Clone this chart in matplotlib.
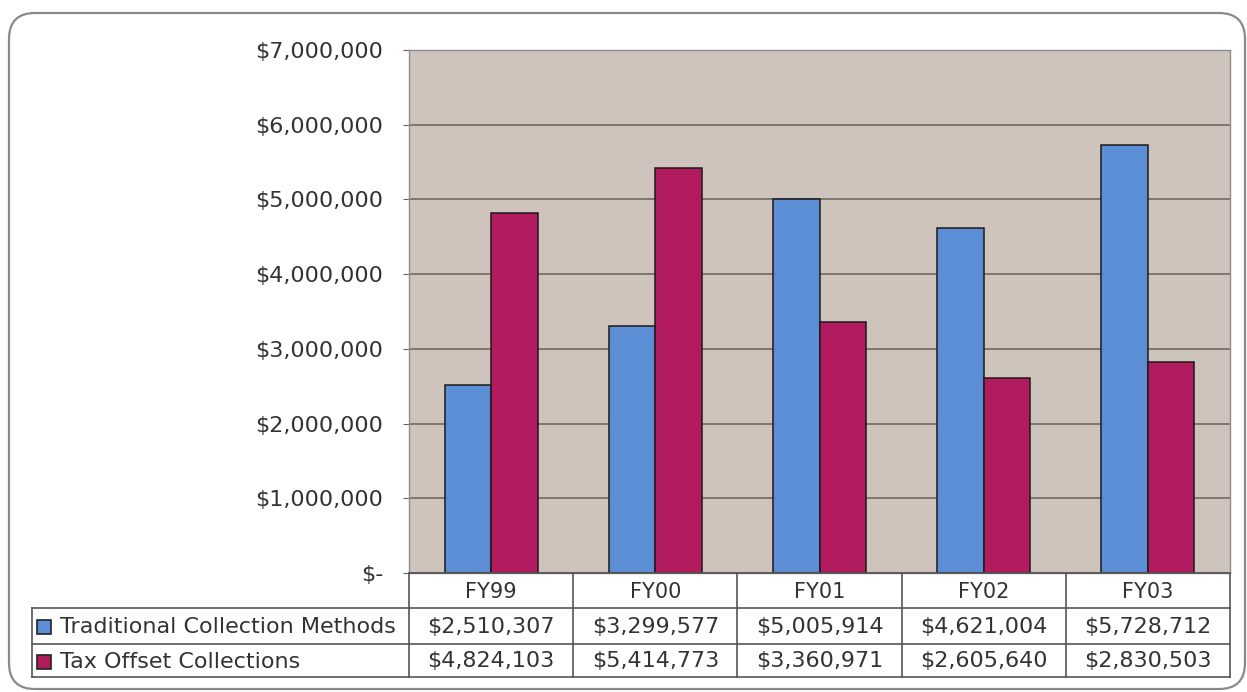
import numpy as np
import matplotlib.pyplot as plt
from matplotlib.patches import FancyBboxPatch, Rectangle
from matplotlib.ticker import FuncFormatter

plt.rcParams['font.family'] = ['DejaVu Sans']

categories = ["FY99", "FY00", "FY01", "FY02", "FY03"]
traditional = [2510307, 3299577, 5005914, 4621004, 5728712]
tax_offset = [4824103, 5414773, 3360971, 2605640, 2830503]
series_names = ["Traditional Collection Methods", "Tax Offset Collections"]
y_ticks = [0, 1000000, 2000000, 3000000, 4000000, 5000000, 6000000, 7000000]

BLUE = "#5b8ed5"
MAGENTA = "#b31b5f"
PLOT_BG = "#cfc4bc"
GRID = "#6a625c"
TEXT = "#333333"
LINE = "#555555"

W, H = 1247, 692
fig = plt.figure(figsize=(W / 100, H / 100), dpi=100)
fig.patch.set_facecolor("white")


def px(x0, y0, x1, y1):
    return [x0 / W, 1 - y1 / H, (x1 - x0) / W, (y1 - y0) / H]


# rounded frame around the whole chart
frame = fig.add_axes([0, 0, 1, 1], zorder=-1)
frame.set_xlim(0, W)
frame.set_ylim(H, 0)
frame.axis("off")
frame.add_patch(FancyBboxPatch((9, 13), 1236, 676,
                               boxstyle="round,pad=0,rounding_size=26",
                               fc="white", ec="#8a8a8a", lw=1.6))

# bar chart
ax = fig.add_axes(px(409, 50, 1230, 573))
ax.set_facecolor(PLOT_BG)
x = np.arange(len(categories))
bw = 0.283
ax.bar(x - bw / 2, traditional, bw, color=BLUE, edgecolor="#1a1a1a", lw=1.1, zorder=3)
ax.bar(x + bw / 2, tax_offset, bw, color=MAGENTA, edgecolor="#1a1a1a", lw=1.1, zorder=3)
ax.set_xlim(-0.5, len(categories) - 0.5)
ax.set_ylim(0, 7000000)
ax.set_yticks(y_ticks)
ax.yaxis.set_major_formatter(FuncFormatter(
    lambda v, p: "$-" if v == 0 else f"${v:,.0f}"))
ax.tick_params(axis="y", labelsize=16, labelcolor=TEXT, color=GRID,
               length=4, pad=14.5)
ax.set_xticks([])
ax.grid(axis="y", color=GRID, lw=1.1, zorder=1)
for s in ax.spines.values():
    s.set_color("#8c8c8c")
    s.set_linewidth(1)

# data table under the plot, sharing the category columns
unit = (1230 - 409) / len(categories)
left = -0.5 - (409 - 32) / unit
right = len(categories) - 0.5
rows = [0, 35, 71, 104]
tab = fig.add_axes(px(32, 573, 1230, 677))
tab.set_xlim(left, right)
tab.set_ylim(rows[-1], rows[0])
tab.axis("off")

edges = [i - 0.5 for i in range(len(categories) + 1)]
for e in edges:
    tab.plot([e, e], [rows[0], rows[-1]], color=LINE, lw=1.2, clip_on=False)
tab.plot([left, left], [rows[1], rows[-1]], color=LINE, lw=1.2, clip_on=False)
tab.plot([-0.5, right], [rows[0], rows[0]], color=LINE, lw=1.2, clip_on=False)
for r in rows[1:]:
    tab.plot([left, right], [r, r], color=LINE, lw=1.2, clip_on=False)

for i, c in enumerate(categories):
    tab.text(i, (rows[0] + rows[1]) / 2 + 1, c, ha="center", va="center",
             fontsize=15, color=TEXT)

for k, (name, vals, col) in enumerate(zip(series_names, [traditional, tax_offset],
                                           [BLUE, MAGENTA])):
    yc = (rows[k + 1] + rows[k + 2]) / 2 + 1
    tab.add_patch(Rectangle((left + 5 / unit, yc - 7), 14 / unit, 14,
                            fc=col, ec="#222222", lw=1.2, clip_on=False))
    tab.text(left + 28 / unit, yc, name, ha="left", va="center",
             fontsize=16, color=TEXT)
    for i, v in enumerate(vals):
        tab.text(i, yc, f"${v:,.0f}", ha="center", va="center",
                 fontsize=16, color=TEXT)

fig.savefig("out.png", dpi=100)
